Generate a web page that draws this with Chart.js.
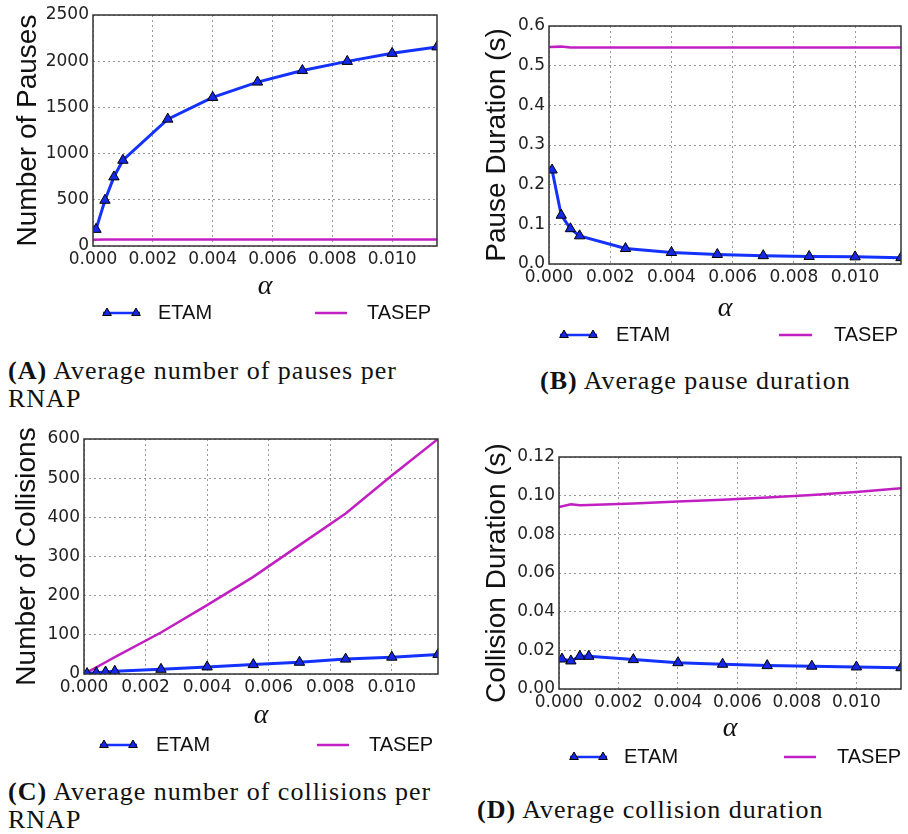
<!DOCTYPE html>
<html>
<head>
<meta charset="utf-8">
<script src="https://cdn.jsdelivr.net/npm/chart.js@4.4.1/dist/chart.umd.min.js"></script>
<style>
  body { margin:0; background:#fff; width:908px; height:834px; position:relative; overflow:hidden; }
  .panel { position:absolute; }
  .cap { position:absolute; font-family:"Liberation Serif", serif; font-size:26px; line-height:28px;
         color:#111; letter-spacing:1px; white-space:nowrap; }
</style>
</head>
<body>
<div class="panel" style="left:0;top:0"><canvas id="cA" width="450" height="335"></canvas></div>
<div class="panel" style="left:454px;top:0"><canvas id="cB" width="454" height="360"></canvas></div>
<div class="panel" style="left:0;top:420px"><canvas id="cC" width="450" height="340"></canvas></div>
<div class="panel" style="left:454px;top:420px"><canvas id="cD" width="454" height="350"></canvas></div>

<div class="cap" style="left:8px;top:357px"><b>(A)</b> Average number of pauses per<br>RNAP</div>
<div class="cap" style="left:540px;top:367px"><b>(B)</b> Average pause duration</div>
<div class="cap" style="left:8px;top:778px"><b>(C)</b> Average number of collisions per<br>RNAP</div>
<div class="cap" style="left:477px;top:796px"><b>(D)</b> Average collision duration</div>

<script>
// alpha values (x)
const alphaEtam  = [0.0001, 0.0004, 0.0007, 0.001, 0.0025, 0.004, 0.0055, 0.007, 0.0085, 0.010, 0.0115];
const alphaTasep = [0, 0.0004, 0.0007, 0.001, 0.0025, 0.004, 0.0055, 0.007, 0.0085, 0.010, 0.0115];

// (A) number of pauses
const pausesEtam  = [180, 495, 748, 928, 1373, 1608, 1774, 1900, 1998, 2085, 2155];
const pausesTasep = [68, 69, 69, 69, 69, 69, 69, 69, 69, 69, 69];
// (B) pause duration (s)
const pauseDurEtam  = [0.237, 0.123, 0.089, 0.071, 0.039, 0.029, 0.024, 0.021, 0.019, 0.018, 0.016];
const pauseDurTasep = [0.547, 0.548, 0.546, 0.546, 0.546, 0.546, 0.546, 0.546, 0.546, 0.546, 0.546];
// (C) number of collisions
const collEtam  = [1, 3, 5, 7, 12, 18, 24, 30, 38, 43, 50];
const collTasep = [0, 17, 30, 43, 106, 176, 248, 329, 410, 507, 600];
// (D) collision duration (s)
const collDurEtam  = [0.0155, 0.0145, 0.0169, 0.0169, 0.0152, 0.0136, 0.0128, 0.0121, 0.0118, 0.0114, 0.0110];
const collDurTasep = [0.0941, 0.0955, 0.0950, 0.0952, 0.0960, 0.0970, 0.0979, 0.0990, 0.1003, 0.1019, 0.1038];

const ETAM_BLUE = '#1432ff';
const TASEP_MAG = '#c21fc2';
const tickFont = { family:'"DejaVu Sans", sans-serif', size:17 };

// matplotlib-style box around the axes
const framePlugin = {
  id: 'frame',
  afterDatasetsDraw(chart){
    const { ctx, chartArea:a } = chart;
    ctx.save();
    ctx.strokeStyle = '#333';
    ctx.lineWidth = 1.5;
    ctx.strokeRect(a.left, a.top, a.right - a.left, a.bottom - a.top);
    ctx.restore();
  }
};

// legend below the axes: line with markers at both ends, like matplotlib
const legendPlugin = {
  id: 'mplLegend',
  afterDraw(chart, args, opts){
    const ctx = chart.ctx;
    ctx.save();
    ctx.font = '20px "Liberation Sans", Arial, sans-serif';
    ctx.textBaseline = 'middle';
    chart.data.datasets.forEach((ds, i) => {
      const it = opts.items[i];
      ctx.strokeStyle = ds.borderColor;
      ctx.lineWidth = 2.5;
      ctx.beginPath();
      ctx.moveTo(it.x, opts.y);
      ctx.lineTo(it.x + it.w, opts.y);
      ctx.stroke();
      if (ds.pointRadius > 0) {
        const o = { pointStyle: ds.pointStyle, radius: 5, borderWidth: 1, rotation: 0 };
        ctx.fillStyle = ds.pointBackgroundColor;
        ctx.strokeStyle = ds.pointBorderColor;
        ctx.lineWidth = 1;
        Chart.helpers.drawPoint(ctx, o, it.x + 4, opts.y);
        Chart.helpers.drawPoint(ctx, o, it.x + it.w - 4, opts.y);
      }
      ctx.fillStyle = '#111';
      ctx.fillText(ds.label, it.tx, opts.y);
    });
    ctx.restore();
  }
};

function makePanel(id, g, yTitle, yMax, yStep, yDec, etamY, tasepY){
  return new Chart(document.getElementById(id), {
    type: 'line',
    data: {
      datasets: [
        { label:'ETAM', data: alphaEtam.map((x, i) => ({ x, y: etamY[i] })),
          borderColor: ETAM_BLUE, borderWidth: 3, tension: 0,
          pointStyle: 'triangle', pointRadius: 6, pointBackgroundColor: '#1428e6',
          pointBorderColor: '#000', pointBorderWidth: 1 },
        { label:'TASEP', data: alphaTasep.map((x, i) => ({ x, y: tasepY[i] })),
          borderColor: TASEP_MAG, borderWidth: 2.5, tension: 0, pointRadius: 0 }
      ]
    },
    options: {
      responsive: false,
      animation: false,
      layout: { padding: { top: g.T, right: g.W - g.R, left: 0, bottom: 0 } },
      plugins: { legend: { display:false }, tooltip: { enabled:false }, mplLegend: g.legend },
      scales: {
        x: {
          type: 'linear', min: 0, max: 0.0115,
          afterFit: s => { s.height = g.H - g.B; },
          ticks: { stepSize: 0.002, includeBounds: false, padding: 3, font: tickFont, color: '#222',
                   callback: v => v.toFixed(3) },
          grid: { color: '#999', lineWidth: 1, drawTicks: false },
          border: { display: false, dash: [2, 3] },
          title: { display: true, text: 'α', color: '#111',
                   font: { family: '"Liberation Serif", serif', style: 'italic', size: 28, lineHeight: 1.2 },
                   padding: { top: 0, bottom: g.ab } }
        },
        y: {
          min: 0, max: yMax,
          afterFit: s => { s.width = g.L; },
          ticks: { stepSize: yStep, padding: 4, font: tickFont, color: '#222',
                   callback: v => v.toFixed(yDec) },
          grid: { color: '#999', lineWidth: 1, drawTicks: false },
          border: { display: false, dash: [2, 3] },
          title: { display: true, text: yTitle, color: '#111',
                   font: { family: '"Liberation Sans", Arial, sans-serif', size: 28, lineHeight: 1.2 },
                   padding: { top: g.yt, bottom: 0 } }
        }
      }
    },
    plugins: [framePlugin, legendPlugin]
  });
}

makePanel('cA',
  { W:450, H:335, L:93, R:437, T:15, B:246, ab:32, yt:11,
    legend: { y:313, items:[{ x:103, w:37, tx:158 }, { x:315, w:32, tx:367 }] } },
  'Number of Pauses', 2500, 500, 0, pausesEtam, pausesTasep);

makePanel('cB',
  { W:454, H:360, L:95, R:452, T:26, B:264, ab:35, yt:26,
    legend: { y:335, items:[{ x:106, w:37, tx:162 }, { x:325, w:33, tx:380 }] } },
  'Pause Duration (s)', 0.6, 0.1, 1, pauseDurEtam, pauseDurTasep);

makePanel('cC',
  { W:450, H:340, L:84, R:438, T:19, B:254, ab:28, yt:10,
    legend: { y:325, items:[{ x:100, w:37, tx:156 }, { x:317, w:32, tx:369 }] } },
  'Number of Collisions', 600, 100, 0, collEtam, collTasep);

makePanel('cD',
  { W:454, H:350, L:105, R:453, T:37, B:269, ab:25, yt:26,
    legend: { y:337, items:[{ x:116, w:37, tx:170 }, { x:330, w:32, tx:383 }] } },
  'Collision Duration (s)', 0.12, 0.02, 2, collDurEtam, collDurTasep);
</script>
</body>
</html>
